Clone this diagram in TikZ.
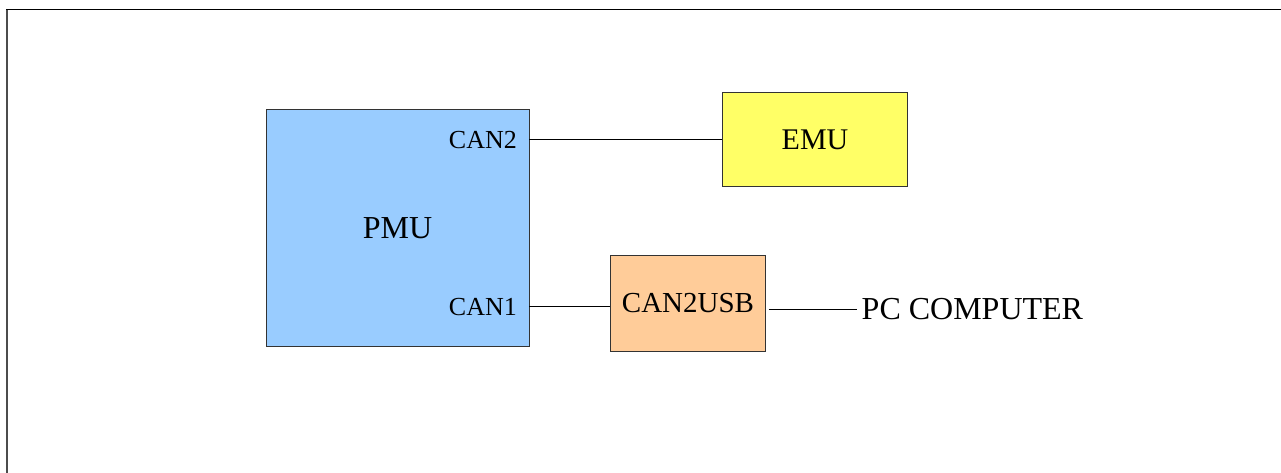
\documentclass[tikz,border=0pt]{standalone}
\usepackage{fontspec}
\setmainfont{Liberation Serif}
\definecolor{pmublue}{HTML}{99CCFF}
\definecolor{emuyellow}{HTML}{FFFF66}
\definecolor{usborange}{HTML}{FFCC99}
\definecolor{edgegray}{HTML}{333333}
\tikzset{
  blockbox/.style={draw=edgegray, line width=1pt, inner sep=0pt, anchor=center},
  wire/.style={draw=black, line width=1pt},
  portlbl/.style={inner sep=0pt, anchor=base east, font=\fontsize{26}{30}\selectfont},
}
\begin{document}
\begin{tikzpicture}[x=1pt, y=-1pt]
\useasboundingbox (0,0) rectangle (1281,473);
% frame
\draw[line width=2pt, black!70] (6.8,473) -- (6.8,9.5);
\draw[line width=1.4pt, black] (6,9.5) -- (1281,9.5);
% blocks
\node[blockbox, fill=pmublue, minimum width=263pt, minimum height=236pt,
      font=\fontsize{32}{38}\selectfont] (pmu) at (397.5,228) {PMU};
\node[blockbox, fill=emuyellow, minimum width=185.5pt, minimum height=93.5pt,
      font=\fontsize{30}{36}\selectfont] (emu) at (815,139.5) {EMU};
\node[blockbox, fill=usborange, minimum width=154.5pt, minimum height=95.5pt,
      font=\fontsize{29}{34}\selectfont] (usb) at (688,303.5) {CAN2USB};
% port labels
\node[portlbl] (can2) at (517,149) {CAN2};
\node[portlbl] (can1) at (517,315) {CAN1};
\node[inner sep=0pt, anchor=base west, font=\fontsize{32}{38}\selectfont] (pc) at (861.5,319) {PC COMPUTER};
% port points
\coordinate (p2) at (529,140);
\coordinate (p1) at (529,306);
\coordinate (pcl) at (0,309.5);
% connectors
\draw[wire] (p2) -- (emu.west |- p2);
\draw[wire] (p1) -- (usb.west |- p1);
\draw[wire] ([xshift=3pt]usb.east |- pcl) -- ([xshift=-4.5pt]pc.west |- pcl);
\end{tikzpicture}
\end{document}
